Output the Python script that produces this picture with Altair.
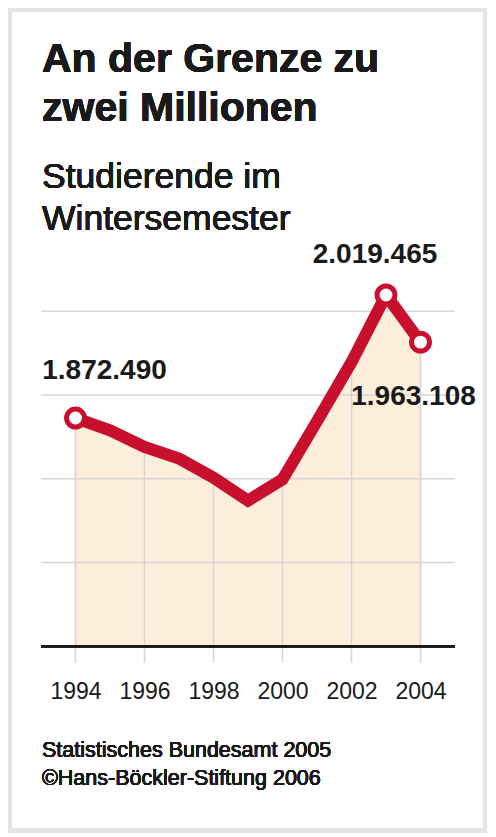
import altair as alt
import pandas as pd

# ---------------- data ----------------
years = [1994, 1995, 1996, 1997, 1998, 1999, 2000, 2001, 2002, 2003, 2004]
students = [1872490, 1857906, 1838099, 1824107, 1801233, 1773956,
            1799338, 1868666, 1939233, 2019465, 1963108]
label_years = [1994, 2003, 2004]
tick_years = [1994, 1996, 1998, 2000, 2002, 2004]
grid_values = [1700000, 1800000, 1900000, 2000000]
axis_floor = 1600000

title_lines = ["An der Grenze zu", "zwei Millionen"]
subtitle_lines = ["Studierende im", "Wintersemester"]
source_lines = ["Statistisches Bundesamt 2005", "\u00a9Hans-B\u00f6ckler-Stiftung 2006"]

# ---------------- tables ----------------
df = pd.DataFrame({"year": years, "students": students})
df["label"] = [f"{v:,}".replace(",", ".") for v in students]
grid_df = pd.DataFrame({"value": grid_values})
vdf = df[df["year"].isin(tick_years)]
ldf = df[df["year"].isin(label_years)]

FONT = "Liberation Sans"
RED = "#c8102e"
FILL = "#fdeedb"
GRID = "#d6d6d6"
INK = "#1a1a1a"

xscale = alt.Scale(domain=[1993, 2005], nice=False, zero=False)
yscale = alt.Scale(domain=[1580000, 2060000], nice=False, zero=False)
X = alt.X("year:Q", scale=xscale,
          axis=alt.Axis(values=tick_years, format="d", title=None, grid=False,
                        domain=False, ticks=False, labelFont=FONT,
                        labelFontSize=23, labelColor=INK, labelPadding=35,
                        labelBaseline="alphabetic", labelFlush=False,
                        labelOverlap=False))
Y = alt.Y("students:Q", scale=yscale, axis=None)

base = alt.Chart(df)

area = base.mark_area(color=FILL).encode(
    x=X, y=Y, y2=alt.Y2Datum(axis_floor))

hgrid = alt.Chart(grid_df).mark_rule(color=GRID, strokeWidth=1.5).encode(
    y=alt.Y("value:Q", scale=yscale, axis=None))

vgrid = alt.Chart(vdf).mark_rule(color=GRID, strokeWidth=1.5).encode(
    x=X, y=Y, y2=alt.Y2Datum(1580000))

baseline = alt.Chart(df).mark_rule(color=INK, strokeWidth=2).encode(
    y=alt.YDatum(axis_floor, scale=yscale, axis=None))

line = base.mark_line(color=RED, strokeWidth=12, strokeJoin="miter").encode(
    x=X, y=Y)

points = alt.Chart(ldf).mark_point(
    shape="circle", filled=True, fill="white", stroke=RED, strokeWidth=5,
    size=320, opacity=1).encode(x=X, y=Y)

label_offsets = {1994: (29, -39), 2003: (-11, -32), 2004: (-7, 63)}
labels = []
for yr in label_years:
    dx, dy = label_offsets[yr]
    labels.append(
        alt.Chart(ldf[ldf["year"] == yr]).mark_text(
            font=FONT, fontSize=28, fontWeight="bold", color=INK,
            align="center", baseline="alphabetic", dx=dx, dy=dy
        ).encode(x=X, y=Y, text="label:N"))


def free_text(txt, xpos, ypos, size, weight="normal"):
    return alt.Chart(df).mark_text(
        font=FONT, fontSize=size, fontWeight=weight, color=INK,
        align="left", baseline="alphabetic"
    ).encode(x=alt.value(xpos), y=alt.value(ypos), text=alt.value(txt))


texts = [
    free_text(title_lines[0], 1, -189, 41, "bold"),
    free_text(title_lines[1], 1, -140, 41, "bold"),
    free_text(subtitle_lines[0], 1, -73, 35.5),
    free_text(subtitle_lines[1], 1, -31, 35.5),
    free_text(source_lines[0], 1, 496, 21.5),
    free_text(source_lines[1], 1, 524, 21.5),
]

frame = alt.Chart(df).mark_rect(
    fill=None, stroke="#e4e4e4", strokeWidth=4).encode(
    x=alt.value(-31), x2=alt.value(444),
    y=alt.value(-251), y2=alt.value(569.5))

chart = alt.layer(
    area, hgrid, vgrid, baseline, line, points, *labels, *texts, frame
).properties(
    width=414, height=402,
    padding={"left": 33, "top": 253, "right": 33, "bottom": 170},
    autosize=alt.AutoSizeParams(type="none"),
    background="white",
).configure_view(stroke=None)

chart.save("out.html", embed_options={"renderer": "svg", "actions": False})
